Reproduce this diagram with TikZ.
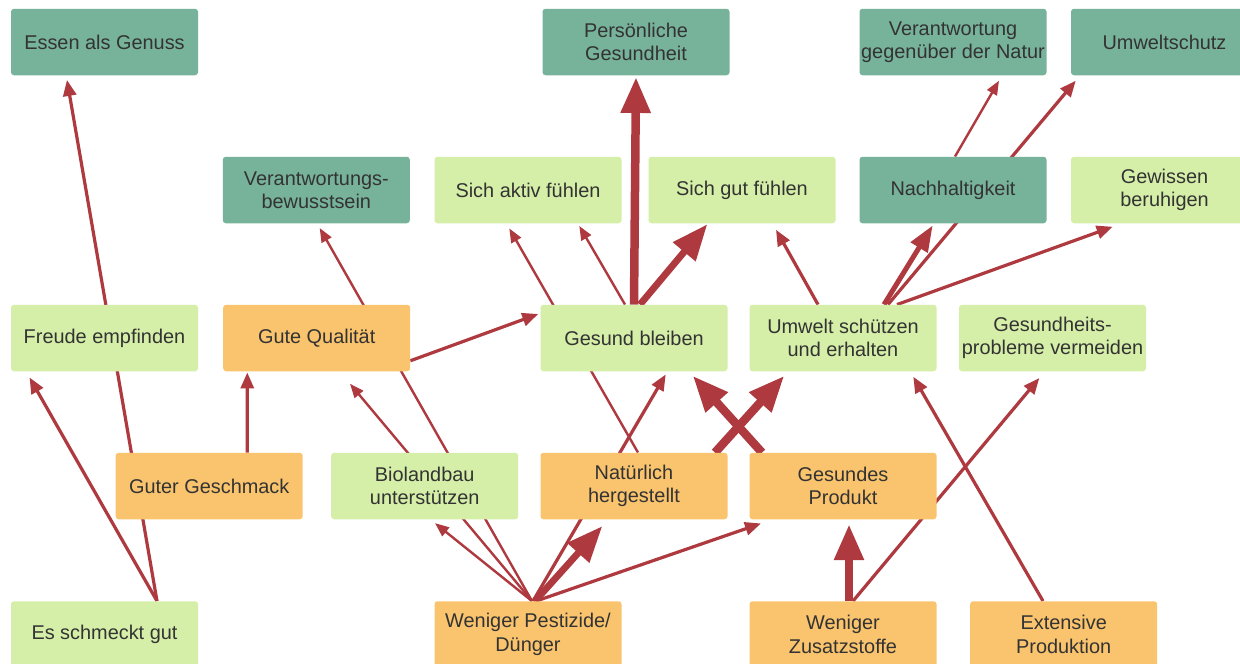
\documentclass[tikz,border=0pt]{standalone}
\usepackage{fontspec}
\setmainfont{Liberation Sans}
\usetikzlibrary{arrows.meta,calc,backgrounds}
\definecolor{dkg}{HTML}{77B39B}
\definecolor{lgr}{HTML}{D6EFA8}
\definecolor{org}{HTML}{F9C46D}
\definecolor{arr}{HTML}{AE3A40}
\definecolor{txt}{HTML}{333333}
\begin{document}
\begin{tikzpicture}[x=1pt,y=-1pt,
  box/.style={rounded corners=3pt, minimum width=187pt, minimum height=66.5pt, inner sep=0pt, align=center, text=txt, font=\fontsize{19.9}{23.5}\selectfont},
  dk/.style={box,fill=dkg}, lg/.style={box,fill=lgr}, og/.style={box,fill=org},
  ethin/.style={draw=arr, line width=2.4pt, -{Triangle[length=14pt,width=11pt]}},
  emed/.style={draw=arr, line width=3.2pt, -{Triangle[length=16pt,width=13pt]}},
  ebold/.style={draw=arr, line width=5pt, -{Triangle[length=26pt,width=19pt]}},
  eheavy/.style={draw=arr, line width=8.5pt, -{Triangle[length=36pt,width=28pt]}}]
\useasboundingbox (0,0) rectangle (1240,664);
% row 1
\node[dk] (essen) at (104.5,42) {Essen als Genuss};
\node[dk] (pers) at (636,42) {Persönliche\\Gesundheit};
\node[dk] (vnatur) at (953,42) {Verantwortung\\gegenüber der Natur};
\node[dk] (umweltschutz) at (1164.5,42) {Umweltschutz};
% row 2
\node[dk] (vbew) at (316.3,190) {Verantwortungs-\\bewusstsein};
\node[lg] (aktiv) at (528,190) {Sich aktiv fühlen};
\node[lg] (gut) at (742,190) {Sich gut fühlen};
\node[dk] (nachh) at (953,190) {Nachhaltigkeit};
\node[lg] (gewissen) at (1164.5,190) {Gewissen\\beruhigen};
% row 3
\node[lg] (freude) at (104.5,338) {Freude empfinden};
\node[og] (quali) at (316.7,338) {Gute Qualität};
\node[lg] (bleiben) at (634,338) {Gesund bleiben};
\node[lg] (uschuetz) at (843,338) {Umwelt schützen\\und erhalten};
\node[lg] (gprob) at (1052.5,338) {Gesundheits-\\probleme vermeiden};
% row 4
\node[og] (geschmack) at (209.2,486) {Guter Geschmack};
\node[lg] (bio) at (424.7,486) {Biolandbau\\unterstützen};
\node[og] (natuerlich) at (634,486) {Natürlich\\hergestellt};
\node[og] (gprod) at (843,486) {Gesundes\\Produkt};
% row 5
\node[lg] (schmeckt) at (104.5,634.5) {Es schmeckt gut};
\node[og] (pest) at (528,634.5) {Weniger Pestizide/\\Dünger};
\node[og] (zusatz) at (843,634.5) {Weniger\\Zusatzstoffe};
\node[og] (extensiv) at (1063.7,634.5) {Extensive\\Produktion};
\begin{scope}[on background layer]
\fill[white] (0,0) rectangle (1240,664);
\draw[emed] ($(schmeckt.north)+(52.5,0)$) -- ($(freude.south)+(-75,6)$);
\draw[emed] ($(schmeckt.north)+(52.5,0)$) -- ($(essen.south)+(-37.5,4.5)$);
\draw[emed] ($(geschmack.north)+(38,0)$) -- ($(quali.south)+(-69.4,1)$);
\draw[emed] ($(quali.south east)+(0,-10.7)$) -- ($(bleiben.west)+(-2,-24)$);
\draw[ethin] ($(pest.north)+(4,0)$) -- ($(vbew.south)+(3.4,4.6)$);
\draw[ethin] ($(pest.north)+(4,0)$) -- ($(quali.south)+(33.3,12.3)$);
\draw[ethin] ($(pest.north)+(4,0)$) -- ($(bio.south)+(10.3,3.7)$);
\draw[eheavy, line width=6.8pt] ($(pest.north)+(7,0)$) -- ($(natuerlich.south)+(-31.7,6.7)$);
\draw[emed] ($(pest.north)+(5,0)$) -- ($(bleiben.south)+(31.7,3)$);
\draw[emed] ($(pest.north)+(8,0)$) -- ($(gprod.south)+(-82,4)$);
\draw[ethin] ($(natuerlich.north)+(4,0)$) -- ($(aktiv.south)+(-18.7,5)$);
\draw[ethin] ($(bleiben.north)+(-9,0)$) -- ($(aktiv.south)+(51.3,2.5)$);
\draw[eheavy] (bleiben.north) -- ($(pers.south)+(0,1.5)$);
\draw[eheavy, line width=6.8pt] ($(bleiben.north)+(6,0)$) -- ($(gut.south)+(-34.7,0.8)$);
\draw[eheavy] ($(natuerlich.north)+(81,0)$) -- ($(uschuetz.south)+(-58.7,4.3)$);
\draw[eheavy] ($(gprod.north)+(-81,0)$) -- ($(bleiben.south)+(58.7,4.3)$);
\draw[emed] ($(uschuetz.north)+(-25,0)$) -- ($(gut.south)+(34,6.3)$);
\draw[ebold] ($(uschuetz.north)+(41,0)$) -- ($(nachh.south)+(-20.3,2)$);
\draw[emed] ($(uschuetz.north)+(45,0)$) -- ($(umweltschutz.south)+(-88.8,5.3)$);
\draw[emed] ($(uschuetz.north)+(54,0)$) -- ($(gewissen.south)+(-51.8,3.3)$);
\draw[ethin] ($(nachh.north)+(2,0)$) -- ($(vnatur.south)+(46,5.3)$);
\draw[eheavy] ($(zusatz.north)+(6,0)$) -- ($(gprod.south)+(6,4.7)$);
\draw[emed] ($(zusatz.north)+(10,0)$) -- ($(gprob.south)+(-13.2,6.6)$);
\draw[emed] ($(extensiv.north)+(-20.7,0)$) -- ($(uschuetz.south)+(70.3,5.3)$);
\end{scope}
\end{tikzpicture}
\end{document}
